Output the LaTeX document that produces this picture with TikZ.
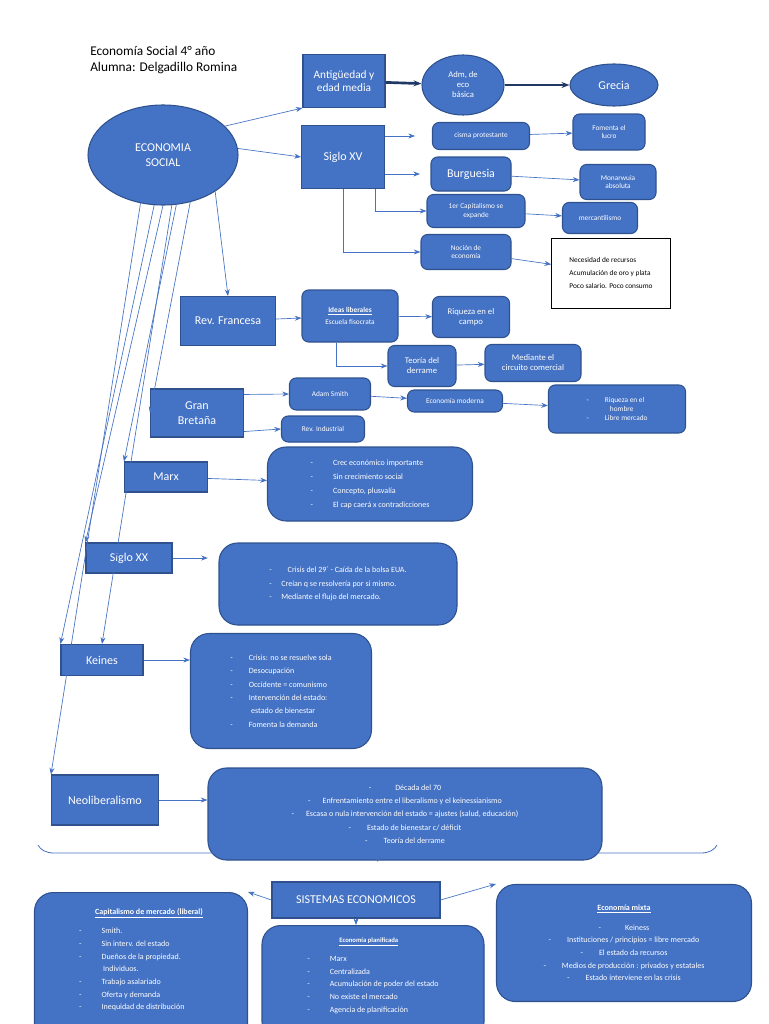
\documentclass[tikz,border=0pt]{standalone}
\usepackage{fontspec}
\setmainfont{Carlito}
\usetikzlibrary{shapes.geometric,arrows.meta,decorations.pathreplacing}
\definecolor{fillb}{HTML}{4472C4}
\definecolor{edgeb}{HTML}{2F528F}
\definecolor{navy}{HTML}{1F3864}
\tikzset{
  box/.style={draw=edgeb,line width=0.8pt,fill=fillb,text=white,align=center,inner sep=1pt},
  rbox/.style={box,rounded corners=5pt},
  bigbox/.style={box,rounded corners=14pt},
  ell/.style={box,ellipse},
  arr/.style={draw=fillb,-{Stealth[length=5pt]},line width=0.5pt},
  thick arr/.style={draw=navy,-{Stealth[length=6pt]},line width=2pt},
}
\begin{document}
\begin{tikzpicture}[x=0.75pt,y=-0.75pt]
\useasboundingbox (0,0) rectangle (768,1024);
\fill[white] (0,0) rectangle (768,1024);

\node[anchor=north west,align=left,font=\fontsize{10}{12}\selectfont,inner sep=0] (title) at (90,46) {Economía Social 4° año\\Alumna: Delgadillo Romina};

\node[ell,minimum width=150*0.75pt,minimum height=100*0.75pt,font=\fontsize{9}{11}\selectfont] (econ) at (163,155) {ECONOMIA\\SOCIAL};

% Antiguedad
\node[box,minimum width=82*0.75pt,minimum height=53*0.75pt,font=\fontsize{8.5}{10}\selectfont] (ant) at (344,81) {Antigüedad y\\edad media};
\node[ell,minimum width=82*0.75pt,minimum height=60*0.75pt,font=\fontsize{6.5}{7.5}\selectfont] (adm) at (463,85) {Adm, de\\eco\\básica};
\node[ell,minimum width=88*0.75pt,minimum height=42*0.75pt,font=\fontsize{9}{11}\selectfont] (grecia) at (614,85) {Grecia};

% Siglo XV
\node[box,minimum width=83*0.75pt,minimum height=63*0.75pt,font=\fontsize{9}{11}\selectfont] (s15) at (343,157) {Siglo XV};
\node[rbox,minimum width=97*0.75pt,minimum height=27*0.75pt,font=\fontsize{5.5}{6.5}\selectfont] (cisma) at (481,136) {cisma protestante};
\node[rbox,minimum width=72*0.75pt,minimum height=36*0.75pt,font=\fontsize{5.5}{6.5}\selectfont] (fomenta) at (609,132) {Fomenta el\\lucro};
\node[rbox,minimum width=80*0.75pt,minimum height=34*0.75pt,font=\fontsize{9}{11}\selectfont] (burg) at (471,174) {Burguesia};
\node[rbox,minimum width=76*0.75pt,minimum height=35*0.75pt,font=\fontsize{5.5}{6.5}\selectfont] (monar) at (618,182) {Monarwuia\\absoluta};
\node[rbox,minimum width=98*0.75pt,minimum height=33*0.75pt,font=\fontsize{5.5}{6.5}\selectfont] (cap1) at (476,211) {1er Capitalismo se\\expande};
\node[rbox,minimum width=75*0.75pt,minimum height=31*0.75pt,font=\fontsize{5.5}{6.5}\selectfont] (merc) at (600,218) {mercantilismo};
\node[rbox,minimum width=90*0.75pt,minimum height=35*0.75pt,font=\fontsize{5.5}{6.5}\selectfont] (nocion) at (466,252) {Noción de\\economía};
\node[draw=black,fill=white,align=left,minimum width=119*0.75pt,minimum height=70*0.75pt,font=\fontsize{5.5}{10}\selectfont] (nec) at (611,273) {Necesidad de recursos\\Acumulación de oro y plata\\Poco salario. Poco consumo};

% Rev francesa
\node[box,minimum width=95*0.75pt,minimum height=49*0.75pt,font=\fontsize{9}{11}\selectfont] (revf) at (228,321) {Rev. Francesa};
\node[rbox,minimum width=96*0.75pt,minimum height=52*0.75pt,font=\fontsize{5.5}{9}\selectfont] (ideas) at (350,316) {\textbf{\underline{Ideas liberales}}\\Escuela fisocrata};
\node[rbox,minimum width=77*0.75pt,minimum height=41*0.75pt,font=\fontsize{6.5}{7.5}\selectfont] (riq) at (471,317) {Riqueza en el\\campo};
\node[rbox,minimum width=68*0.75pt,minimum height=41*0.75pt,font=\fontsize{6.5}{7.5}\selectfont] (teoria) at (422,366) {Teoría del\\derrame};
\node[rbox,minimum width=96*0.75pt,minimum height=37*0.75pt,font=\fontsize{6.5}{7.5}\selectfont] (mediante) at (533,363) {Mediante el\\circuito comercial};

% Gran Bretana
\node[box,minimum width=93*0.75pt,minimum height=48*0.75pt,font=\fontsize{9}{11}\selectfont] (gb) at (197,413) {Gran\\Bretaña};
\node[rbox,minimum width=81*0.75pt,minimum height=32*0.75pt,font=\fontsize{5.5}{6.5}\selectfont] (adam) at (330,394) {Adam Smith};
\node[rbox,minimum width=95*0.75pt,minimum height=22*0.75pt,font=\fontsize{5.5}{6.5}\selectfont] (ecmod) at (455,401) {Economía moderna};
\node[rbox,minimum width=137*0.75pt,minimum height=48*0.75pt,font=\fontsize{5.5}{6.5}\selectfont,align=left] (riqh) at (617,409) {-\hspace{2.2em}Riqueza en el\\\hspace{3.2em}hombre\\-\hspace{2.2em}Libre mercado};
\node[rbox,minimum width=83*0.75pt,minimum height=26*0.75pt,font=\fontsize{5.5}{6.5}\selectfont] (revind) at (323,429) {Rev. Industrial};

% Marx
\node[box,minimum width=83*0.75pt,minimum height=30*0.75pt,font=\fontsize{9}{11}\selectfont] (marx) at (166,477) {Marx};
\node[bigbox,minimum width=205*0.75pt,minimum height=74*0.75pt,font=\fontsize{6}{10.5}\selectfont,align=left] (marxb) at (370,484) {-\hspace{2.5em}Crec económico importante\\-\hspace{2.5em}Sin crecimiento social\\-\hspace{2.5em}Concepto, plusvalía\\-\hspace{2.5em}El cap caerá x contradicciones};

% Siglo XX
\node[box,minimum width=86*0.75pt,minimum height=30*0.75pt,font=\fontsize{9}{11}\selectfont] (s20) at (129,558) {Siglo XX};
\node[bigbox,minimum width=238*0.75pt,minimum height=82*0.75pt,font=\fontsize{6}{10}\selectfont,align=left] (s20b) at (338,584) {-\hspace{2em}Crisis del 29´ - Caída de la bolsa EUA.\\-\hspace{1.2em}Creían q se resolvería por si mismo.\\-\hspace{1.2em}Mediante el flujo del mercado.};

% Keines
\node[box,minimum width=82*0.75pt,minimum height=31*0.75pt,font=\fontsize{9}{11}\selectfont] (keines) at (102,660) {Keines};
\node[bigbox,minimum width=181*0.75pt,minimum height=115*0.75pt,font=\fontsize{6}{10}\selectfont,align=left] (kbox) at (281,691) {-\hspace{2em}Crisis: no se resuelve sola\\-\hspace{2em}Desocupación\\-\hspace{2em}Occidente = comunismo\\-\hspace{2em}Intervención del estado:\\\hspace{2.6em}estado de bienestar\\-\hspace{2em}Fomenta la demanda};

% Neoliberalismo
\node[box,minimum width=107*0.75pt,minimum height=50*0.75pt,font=\fontsize{9}{11}\selectfont] (neo) at (105,800) {Neoliberalismo};
\node[bigbox,minimum width=394*0.75pt,minimum height=92*0.75pt,font=\fontsize{6}{10}\selectfont,align=center] (nbox) at (405,814) {-\hspace{3em}Década del 70\\-\hspace{1.5em}Enfrentamiento entre el liberalismo y el keinessianismo\\-\hspace{1.5em}Escasa o nula intervención del estado = ajustes (salud, educación)\\-\hspace{2em}Estado de bienestar c/ déficit\\-\hspace{2em}Teoría del derrame};

% brace
\coordinate (bl) at (38,845);
\coordinate (br) at (717,845);
\draw[fillb,line width=0.6pt,decorate,decoration={brace,mirror,amplitude=12pt}] (bl) -- (br);

% Sistemas
\node[box,minimum width=168*0.75pt,minimum height=36*0.75pt,font=\fontsize{9}{11}\selectfont] (sis) at (356,900) {SISTEMAS ECONOMICOS};
\node[bigbox,minimum width=213*0.75pt,minimum height=150*0.75pt,font=\fontsize{6}{9.5}\selectfont,align=left,anchor=north] (capb) at (141,892) {\hspace{2em}\textbf{\underline{Capitalismo de mercado (liberal)}}\\[5pt]-\hspace{2.5em}Smith.\\-\hspace{2.5em}Sin interv. del estado\\-\hspace{2.5em}Dueños de la propiedad.\\\hspace{3em}Individuos.\\-\hspace{2.5em}Trabajo asalariado\\-\hspace{2.5em}Oferta y demanda\\-\hspace{2.5em}Inequidad de distribución\\\strut};
\node[bigbox,minimum width=222*0.75pt,minimum height=115*0.75pt,font=\fontsize{6}{9.5}\selectfont,align=left,anchor=north] (plan) at (373,925) {\hspace{4em}\textbf{\underline{\fontsize{5}{6}\selectfont Economía planificada}}\\[5pt]-\hspace{2.5em}Marx\\-\hspace{2.5em}Centralizada\\-\hspace{2.5em}Acumulación de poder del estado\\-\hspace{2.5em}No existe el mercado\\-\hspace{2.5em}Agencia de planificación\\\strut};
\node[bigbox,minimum width=255*0.75pt,minimum height=117*0.75pt,font=\fontsize{6}{9.5}\selectfont,align=center] (mixta) at (624,943) {\textbf{\underline{Economía mixta}}\\[5pt]-\hspace{3em}Keiness\\-\hspace{2em}Instituciones / principios = libre mercado\\-\hspace{2em}El estado da recursos\\-\hspace{2em}Medios de producción : privados y estatales\\-\hspace{2em}Estado interviene en las crisis};

% connectors
\draw[thick arr] (ant) -- (adm);
\draw[thick arr] (adm) -- (grecia);
\draw[arr] (econ.25) -- (ant.south west);
\draw[arr] (econ.5) -- (s15.west);
\draw[arr] (econ.-35) -- (revf.north);
\draw[arr] (econ.-60) -- (gb.west);
\draw[arr] (econ.-75) -- (marx.north west);
\draw[arr] (econ.-90) -- (s20.north west);
\draw[arr] (econ.-100) -- (keines.north west);
\draw[arr] (econ.-115) -- (neo.north west);
\draw[arr] (econ.-80) -- (keines.north);

\draw[arr] (s15.east |- cisma) ++(0,0) -- ++(30,0);
\draw[arr] (s15.east |- burg) -- ++(35,0);
\draw[arr] ([xshift=24]s15.south) |- (cap1.west);
\draw[arr] (s15.south) |- (nocion.west);
\draw[arr] (cisma) -- (fomenta);
\draw[arr] (burg) -- (monar);
\draw[arr] (cap1) -- (merc);
\draw[arr] (nocion) -- (nec);

\draw[arr] (revf) -- (ideas);
\draw[arr] (ideas) -- (riq);
\draw[arr] ([xshift=-10]ideas.south) |- (teoria.west);
\draw[arr] (teoria) -- (mediante);

\draw[arr] (gb.north east) ++(0,6) -- (adam.west);
\draw[arr] (gb.south east) ++(0,-6) -- (revind.west);
\draw[arr] (adam) -- (ecmod);
\draw[arr] (ecmod) -- (riqh);

\draw[arr] (marx) -- (marxb);
\draw[arr] (s20) -- ([xshift=-8]s20b.west |- s20);
\draw[arr] (keines) -- (kbox.west |- keines);
\draw[arr] (neo) -- (nbox.west |- neo);

\draw[arr] (sis.west) -- (capb.north east);
\draw[arr] (sis.east) -- (mixta.north west);
\draw[arr] (sis.south) -- (plan.north -| sis.south);
\end{tikzpicture}
\end{document}
